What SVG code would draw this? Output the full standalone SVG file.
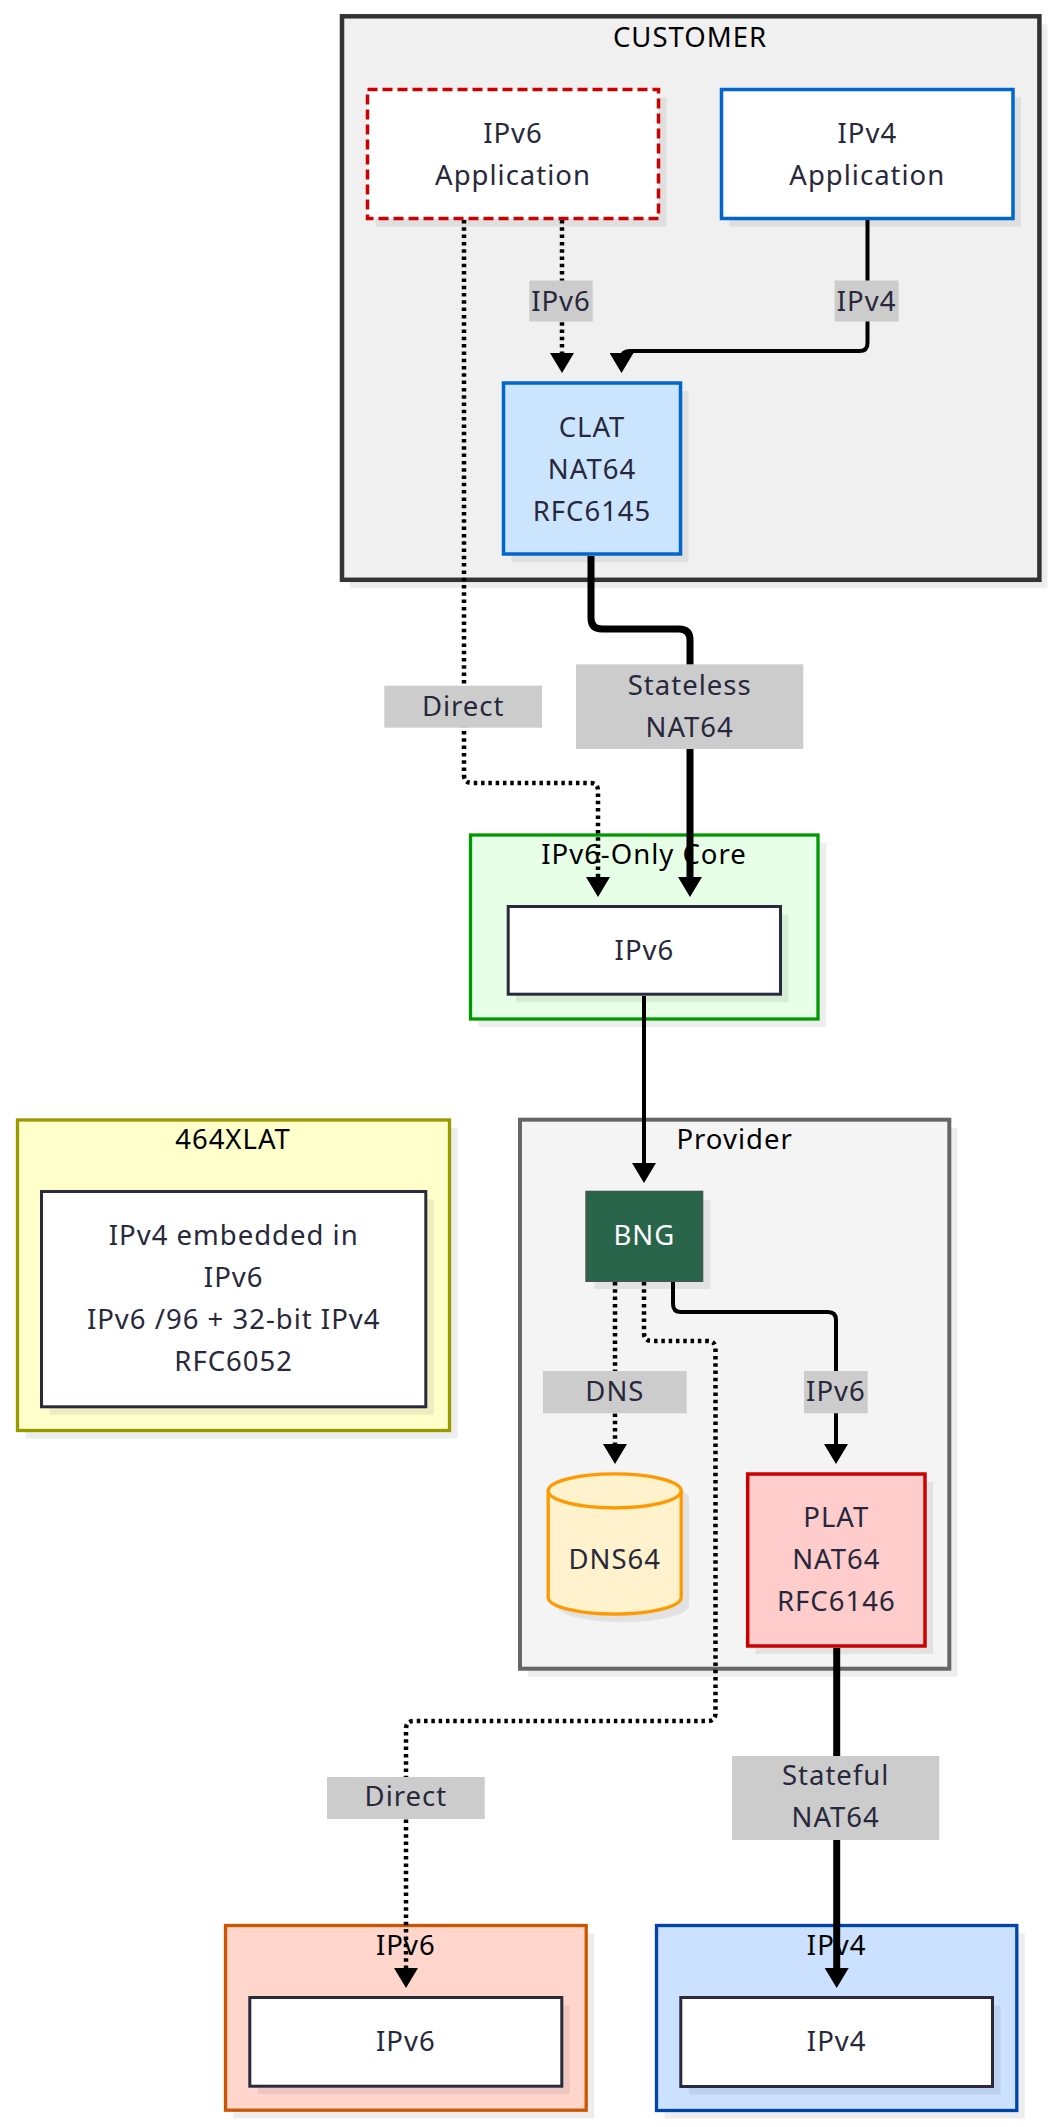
<svg xmlns="http://www.w3.org/2000/svg" width="1053" height="2127" viewBox="0 0 1053 2127">
<defs>
<style>
.sh{fill:#000;fill-opacity:0.07;stroke:none}
.t{font-family:"Noto Sans","Open Sans","DejaVu Sans",sans-serif;font-size:27.5px;fill:#28283c;text-anchor:middle;letter-spacing:1px}
.ct{fill:#000}
.wt{fill:#ffffff}
.e{fill:none;stroke:#000;stroke-width:4}
.thick{stroke-width:7}
.dot{stroke-dasharray:3.5 3.8;stroke-width:4.5}
.lb{fill:#cccccc}
.plain{fill:#ffffff;stroke:#2a2a3e;stroke-width:3}
</style>
<marker id="ah" viewBox="0 0 20 24" refX="8" refY="12" markerWidth="20" markerHeight="24" markerUnits="userSpaceOnUse" orient="auto">
<path d="M0,0 L20,12 L0,24 z" fill="#000"/>
</marker>
</defs>
<rect width="1053" height="2127" fill="#ffffff"/>

<!-- clusters -->
<g id="cluster-customer">
<rect class="sh" x="350" y="24.3" width="697.4" height="563.5"/>
<rect x="342" y="16.3" width="697.4" height="563.5" fill="#f0f0f0" stroke="#333333" stroke-width="4.5"/>
<text class="t ct" x="690" y="46.5">CUSTOMER</text>
</g>
<g id="cluster-core">
<rect class="sh" x="478.5" y="843" width="347.5" height="184"/>
<rect x="470.5" y="835" width="347.5" height="184" fill="#e6ffe6" stroke="#009900" stroke-width="3.3"/>
<text class="t ct" x="644" y="864">IPv6-Only Core</text>
</g>
<g id="cluster-464xlat">
<rect class="sh" x="25.5" y="1128" width="432" height="310.5"/>
<rect x="17.5" y="1120" width="432" height="310.5" fill="#ffffcc" stroke="#999900" stroke-width="3.3"/>
<text class="t ct" x="233" y="1149">464XLAT</text>
</g>
<g id="cluster-provider">
<rect class="sh" x="528" y="1127.7" width="429.3" height="549"/>
<rect x="520" y="1119.7" width="429.3" height="549" fill="#f4f4f4" stroke="#666666" stroke-width="4"/>
<text class="t ct" x="734.6" y="1149">Provider</text>
</g>
<g id="cluster-ipv6">
<rect class="sh" x="233.5" y="1933.5" width="360.7" height="184.7"/>
<rect x="225.5" y="1925.5" width="360.7" height="184.7" fill="#ffd5cc" stroke="#cc5500" stroke-width="3.3"/>
<text class="t ct" x="405.8" y="1955">IPv6</text>
</g>
<g id="cluster-ipv4">
<rect class="sh" x="664.5" y="1933.5" width="360.3" height="185"/>
<rect x="656.5" y="1925.5" width="360.3" height="185" fill="#cce0ff" stroke="#0044aa" stroke-width="3.3"/>
<text class="t ct" x="836.7" y="1955">IPv4</text>
</g>

<!-- nodes -->
<g id="node-ipv6app">
<rect class="sh" x="375.5" y="97.5" width="291" height="129"/>
<rect x="367.5" y="89.5" width="291" height="129" fill="#ffffff" stroke="#cc0000" stroke-width="3.5" stroke-dasharray="10 5"/>
<text class="t" x="513" y="143">IPv6</text>
<text class="t" x="513" y="185">Application</text>
</g>
<g id="node-ipv4app">
<rect class="sh" x="729.5" y="97.5" width="291.5" height="129"/>
<rect x="721.5" y="89.5" width="291.5" height="129" fill="#ffffff" stroke="#0066cc" stroke-width="3.5"/>
<text class="t" x="867.3" y="143">IPv4</text>
<text class="t" x="867.3" y="185">Application</text>
</g>
<g id="node-clat">
<rect class="sh" x="511.5" y="391" width="177" height="171"/>
<rect x="503.5" y="383" width="177" height="171" fill="#cce5ff" stroke="#0066cc" stroke-width="3.5"/>
<text class="t" x="592" y="437">CLAT</text>
<text class="t" x="592" y="479">NAT64</text>
<text class="t" x="592" y="521">RFC6145</text>
</g>
<g id="node-core-ipv6">
<rect class="sh" x="516.2" y="914.5" width="272.3" height="87.7"/>
<rect class="plain" x="508.2" y="906.5" width="272.3" height="87.7"/>
<text class="t" x="644.4" y="959.5">IPv6</text>
</g>
<g id="node-464xlat">
<rect class="sh" x="49.5" y="1199.5" width="384.3" height="215.3"/>
<rect class="plain" x="41.5" y="1191.5" width="384.3" height="215.3"/>
<text class="t" x="233.7" y="1245">IPv4 embedded in</text>
<text class="t" x="233.7" y="1287">IPv6</text>
<text class="t" x="233.7" y="1329">IPv6 /96 + 32-bit IPv4</text>
<text class="t" x="233.7" y="1371">RFC6052</text>
</g>
<g id="node-bng">
<rect class="sh" x="594.3" y="1199.7" width="116" height="89.3"/>
<rect x="586.3" y="1191.7" width="116" height="89.3" fill="#28654a" stroke="#3d5a4c" stroke-width="2"/>
<text class="t wt" x="644.3" y="1245">BNG</text>
</g>
<g id="node-dns64">
<path class="sh" d="M556.2,1498.8 A66.5,17 0 0 1 689.2,1498.8 V1605.2 A66.5,17 0 0 1 556.2,1605.2 Z"/>
<path d="M548.2,1490.8 A66.5,17 0 0 1 681.2,1490.8 V1597.2 A66.5,17 0 0 1 548.2,1597.2 Z" fill="#fff2cc" stroke="#ff9900" stroke-width="3.3"/>
<path d="M548.2,1490.8 A66.5,17 0 0 0 681.2,1490.8" fill="none" stroke="#ff9900" stroke-width="3.3"/>
<text class="t" x="614.7" y="1569">DNS64</text>
</g>
<g id="node-plat">
<rect class="sh" x="755.7" y="1482" width="177.3" height="172"/>
<rect x="747.7" y="1474" width="177.3" height="172" fill="#ffcccc" stroke="#cc0000" stroke-width="3.5"/>
<text class="t" x="836.3" y="1527">PLAT</text>
<text class="t" x="836.3" y="1569">NAT64</text>
<text class="t" x="836.3" y="1611">RFC6146</text>
</g>
<g id="node-ipv6-dest">
<rect class="sh" x="257.8" y="2005.5" width="312" height="88.7"/>
<rect class="plain" x="249.8" y="1997.5" width="312" height="88.7"/>
<text class="t" x="405.8" y="2050.7">IPv6</text>
</g>
<g id="node-ipv4-dest">
<rect class="sh" x="688.8" y="2005.5" width="311.7" height="89"/>
<rect class="plain" x="680.8" y="1997.5" width="311.7" height="89"/>
<text class="t" x="836.7" y="2050.7">IPv4</text>
</g>

<!-- connectors -->
<g id="connectors">
<path class="e dot" d="M562,220 V361" marker-end="url(#ah)"/>
<path class="e" d="M867.5,220 V343 Q867.5,351 859.5,351 H629.5 Q621.5,351 621.5,359 V361" marker-end="url(#ah)"/>
<path class="e dot" d="M464,220 V775 Q464,783 472,783 H590 Q598,783 598,791 V885" marker-end="url(#ah)"/>
<path class="e thick" d="M591,556 V618 Q591,629 602,629 H679 Q690,629 690,640 V885" marker-end="url(#ah)"/>
<path class="e" d="M644,996 V1171" marker-end="url(#ah)"/>
<path class="e dot" d="M615,1282 V1452" marker-end="url(#ah)"/>
<path class="e" d="M673,1282 V1304 Q673,1312 681,1312 H828 Q836,1312 836,1320 V1452" marker-end="url(#ah)"/>
<path class="e dot" d="M644,1282 V1333 Q644,1341 652,1341 H707.5 Q715.5,1341 715.5,1349 V1713 Q715.5,1721 707.5,1721 H414 Q406,1721 406,1729 V1976" marker-end="url(#ah)"/>
<path class="e thick" d="M836.7,1648 V1976" marker-end="url(#ah)"/>

<g id="edge-labels">
<rect class="lb" x="529.3" y="280.5" width="63.4" height="41"/>
<text class="t" x="561" y="311">IPv6</text>
<rect class="lb" x="834.6" y="280.5" width="64" height="41"/>
<text class="t" x="866.6" y="311">IPv4</text>
<rect class="lb" x="384.3" y="685.7" width="157.7" height="42"/>
<text class="t" x="463.2" y="715.7">Direct</text>
<rect class="lb" x="576" y="664.3" width="227.3" height="84.7"/>
<text class="t" x="689.7" y="695">Stateless</text>
<text class="t" x="689.7" y="737">NAT64</text>
<rect class="lb" x="543" y="1371" width="143.7" height="42.3"/>
<text class="t" x="614.9" y="1400.7">DNS</text>
<rect class="lb" x="804" y="1371" width="63.7" height="42.3"/>
<text class="t" x="835.9" y="1400.7">IPv6</text>
<rect class="lb" x="732" y="1756" width="207.3" height="84"/>
<text class="t" x="835.7" y="1785">Stateful</text>
<text class="t" x="835.7" y="1827.3">NAT64</text>
<rect class="lb" x="327" y="1777" width="157.7" height="42"/>
<text class="t" x="405.9" y="1806">Direct</text>
</g>
</g>
</svg>
